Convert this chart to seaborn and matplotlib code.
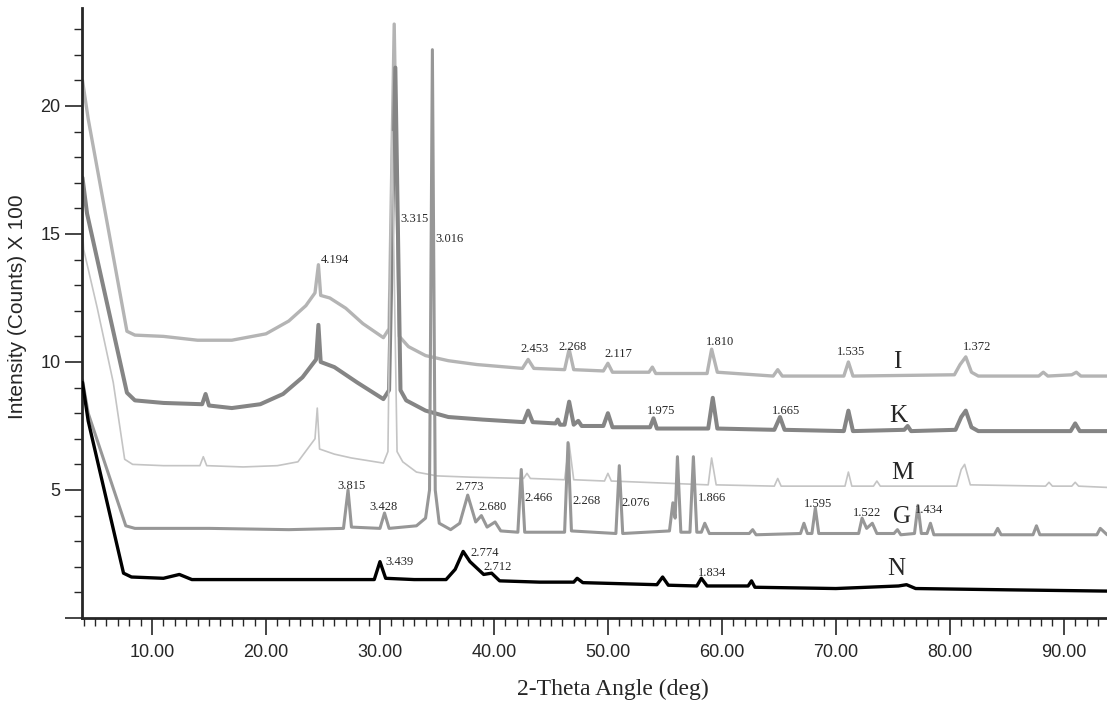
import numpy as np
import pandas as pd
import matplotlib
matplotlib.use("Agg")
import matplotlib.pyplot as plt
import seaborn as sns
from matplotlib.ticker import MultipleLocator, FixedLocator

# ---- data (2-theta deg, counts x 100) ----
I_x = [3.9, 4.4, 7.8, 8.5, 11, 14, 17, 20, 22, 23.5, 24.3, 24.6, 24.8, 25.6, 27, 28.5,
       30.3, 30.8, 31.25, 31.7, 32.5, 34, 36, 38.5, 42.5, 43.0, 43.5, 46.2, 46.6, 47.0,
       49.6, 50.0, 50.4, 53.6, 53.9, 54.2, 58.7, 59.1, 59.6, 64.5, 64.9, 65.3, 70.7,
       71.1, 71.5, 80.4, 80.9, 81.4, 81.9, 82.5, 87.8, 88.2, 88.6, 90.7, 91.1, 91.5, 93.8]
I_y = [21.0, 19.5, 11.2, 11.05, 11.0, 10.85, 10.85, 11.1, 11.6, 12.2, 12.7, 13.8, 12.6,
       12.5, 12.1, 11.5, 10.95, 11.3, 23.2, 11.0, 10.6, 10.25, 10.05, 9.9, 9.75, 10.1,
       9.75, 9.7, 10.5, 9.7, 9.65, 9.95, 9.6, 9.6, 9.8, 9.55, 9.55, 10.5, 9.6, 9.45, 9.7,
       9.45, 9.45, 10.0, 9.45, 9.5, 9.9, 10.2, 9.6, 9.45, 9.45, 9.6, 9.45, 9.5, 9.6,
       9.45, 9.45]

K_x = [3.9, 4.3, 7.8, 8.5, 11, 14.4, 14.7, 15.0, 17, 19.5, 21.5, 23.2, 24.4, 24.6, 24.8,
       26, 28, 30.3, 30.8, 31.35, 31.8, 32.3, 34, 36, 39, 42.6, 43.0, 43.4, 45.4, 45.6,
       45.8, 46.2, 46.6, 47.0, 47.4, 47.7, 49.6, 50.0, 50.4, 53.7, 54.0, 54.3, 58.8,
       59.2, 59.6, 64.6, 65.1, 65.5, 70.7, 71.1, 71.5, 76.0, 76.3, 76.6, 80.5, 81.0,
       81.4, 81.9, 82.5, 90.6, 91.0, 91.4, 93.8]
K_y = [17.2, 15.8, 8.8, 8.5, 8.4, 8.35, 8.75, 8.3, 8.2, 8.35, 8.75, 9.4, 10.1, 11.45,
       10.0, 9.8, 9.2, 8.55, 8.9, 21.5, 8.9, 8.5, 8.1, 7.85, 7.75, 7.65, 8.1, 7.65, 7.6,
       7.75, 7.55, 7.55, 8.45, 7.55, 7.7, 7.5, 7.5, 8.0, 7.45, 7.45, 7.8, 7.4, 7.4, 8.6,
       7.4, 7.35, 7.85, 7.35, 7.3, 8.1, 7.3, 7.35, 7.5, 7.3, 7.35, 7.85, 8.1, 7.45, 7.3,
       7.3, 7.6, 7.3, 7.3]

M_x = [3.9, 4.0, 5.2, 6.6, 7.6, 8.3, 11, 14.2, 14.5, 14.8, 18, 21, 22.8, 23.8, 24.3,
       24.5, 24.7, 26, 27.5, 30.3, 30.7, 31.05, 31.5, 32, 33.2, 35, 38, 42.6, 42.9, 43.2,
       46.2, 46.6, 47.0, 49.7, 50.0, 50.3, 58.8, 59.1, 59.5, 64.6, 64.9, 65.2, 70.8,
       71.1, 71.4, 73.3, 73.6, 73.9, 80.6, 81.0, 81.3, 81.8, 88.4, 88.7, 89.0, 90.7,
       91.0, 91.3, 93.8]
M_y = [15.2, 14.4, 12.1, 9.2, 6.2, 6.0, 5.95, 5.95, 6.3, 5.95, 5.9, 5.95, 6.1, 6.7, 7.0,
       8.2, 6.6, 6.4, 6.25, 6.05, 6.5, 19.0, 6.5, 6.1, 5.7, 5.55, 5.5, 5.45, 5.65, 5.45,
       5.4, 6.8, 5.4, 5.35, 5.65, 5.35, 5.2, 6.25, 5.2, 5.15, 5.45, 5.15, 5.15, 5.7, 5.15,
       5.15, 5.35, 5.15, 5.15, 5.8, 6.0, 5.2, 5.15, 5.3, 5.15, 5.15, 5.3, 5.15, 5.1]

G_x = [3.9, 4.4, 7.7, 8.5, 15, 22, 26.8, 27.2, 27.5, 30.0, 30.4, 30.8, 33.2, 34.0, 34.35,
       34.6, 34.85, 35.2, 36.2, 37.0, 37.7, 38.4, 38.9, 39.4, 40.1, 40.6, 42.1, 42.4,
       42.7, 46.2, 46.5, 46.8, 50.7, 51.0, 51.3, 55.4, 55.7, 55.9, 56.1, 56.4, 57.2,
       57.5, 57.8, 58.2, 58.5, 58.9, 62.4, 62.7, 63.0, 66.9, 67.2, 67.5, 67.9, 68.2,
       68.5, 72.0, 72.3, 72.7, 73.2, 73.6, 75.1, 75.4, 75.7, 76.9, 77.2, 77.5, 78.0,
       78.3, 78.6, 83.9, 84.2, 84.5, 87.3, 87.6, 87.9, 92.9, 93.2, 93.8]
G_y = [9.3, 8.0, 3.6, 3.5, 3.5, 3.45, 3.5, 5.0, 3.55, 3.5, 4.1, 3.5, 3.6, 3.9, 5.0, 22.2,
       5.0, 3.7, 3.45, 3.7, 4.8, 3.75, 4.0, 3.55, 3.75, 3.4, 3.35, 5.8, 3.35, 3.35, 6.85,
       3.4, 3.3, 5.95, 3.3, 3.4, 4.5, 3.9, 6.3, 3.35, 3.35, 6.3, 3.35, 3.35, 3.7, 3.3,
       3.3, 3.45, 3.25, 3.3, 3.7, 3.3, 3.3, 4.3, 3.3, 3.3, 3.9, 3.5, 3.7, 3.3, 3.3, 3.45,
       3.25, 3.3, 4.4, 3.3, 3.3, 3.7, 3.25, 3.25, 3.5, 3.25, 3.25, 3.6, 3.25, 3.25, 3.5,
       3.25]

N_x = [3.9, 4.4, 7.5, 8.2, 11, 12.4, 13.5, 20, 25, 29.5, 30.0, 30.5, 33, 35.8, 36.6, 37.3,
       37.9, 38.5, 39.1, 39.8, 40.5, 44, 47.0, 47.3, 47.8, 54.3, 54.8, 55.3, 57.8, 58.2,
       58.7, 62.3, 62.6, 62.9, 70, 75.5, 76.2, 77, 85, 93.8]
N_y = [9.2, 7.7, 1.75, 1.6, 1.55, 1.7, 1.5, 1.5, 1.5, 1.5, 2.2, 1.55, 1.5, 1.5, 1.9, 2.6,
       2.2, 1.95, 1.7, 1.75, 1.45, 1.4, 1.4, 1.55, 1.38, 1.3, 1.6, 1.28, 1.25, 1.55, 1.25,
       1.25, 1.45, 1.2, 1.15, 1.25, 1.3, 1.15, 1.1, 1.05]

# d-spacing labels: (text, x, y)
peak_labels = [
    ("4.194", 26.05, 14.0), ("3.315", 33.0, 15.6), ("3.016", 36.1, 14.8),
    ("2.453", 43.6, 10.5), ("2.268", 46.9, 10.6), ("2.117", 50.9, 10.3),
    ("1.810", 59.8, 10.8), ("1.535", 71.3, 10.4), ("1.372", 82.4, 10.6),
    ("1.975", 54.7, 8.1), ("1.665", 65.6, 8.1),
    ("3.815", 27.5, 5.15), ("3.428", 30.3, 4.35), ("2.773", 37.9, 5.1),
    ("2.680", 39.9, 4.35), ("2.466", 43.9, 4.7), ("2.268", 48.1, 4.55),
    ("2.076", 52.4, 4.5), ("1.866", 59.1, 4.7), ("1.595", 68.4, 4.45),
    ("1.522", 72.7, 4.1), ("1.434", 78.2, 4.2),
    ("3.439", 31.75, 2.2), ("2.774", 39.2, 2.55), ("2.712", 40.3, 2.0),
    ("1.834", 59.1, 1.75),
]
sample_names = ["I", "K", "M", "G", "N"]
sample_label_x = [75.4, 75.5, 75.8, 75.8, 75.3]
sample_label_y = [10.0, 7.9, 5.65, 3.95, 1.9]

series = {
    "I": (I_x, I_y, "#b4b4b4", 2.4),
    "K": (K_x, K_y, "#858585", 2.9),
    "M": (M_x, M_y, "#c4c4c4", 1.2),
    "G": (G_x, G_y, "#979797", 2.2),
    "N": (N_x, N_y, "#000000", 2.4),
}

sns.set_style("ticks")
plt.rcParams["font.family"] = ["Liberation Sans", "DejaVu Sans"]

fig = plt.figure(figsize=(11.07, 7.04), dpi=100)
ax = fig.add_axes([0.0741, 0.1222, 0.926, 0.8665])

for name, (xs, ys, col, lw) in series.items():
    df = pd.DataFrame({"two_theta": xs, "counts": ys})
    sns.lineplot(data=df, x="two_theta", y="counts", ax=ax, color=col,
                 linewidth=lw, sort=False, estimator=None, zorder=3 if name == "N" else 2)

serif = ["Liberation Serif", "DejaVu Serif"]
for txt, x, y in peak_labels:
    ax.text(x, y, txt, fontsize=9, family=serif, ha="center", va="center", zorder=5)
for name, x, y in zip(sample_names, sample_label_x, sample_label_y):
    ax.text(x, y, name, fontsize=18, family=serif, ha="center", va="center", zorder=5)

ax.set_xlim(3.86, 93.8)
ax.set_ylim(0, 23.83)

ax.xaxis.set_major_locator(FixedLocator(np.arange(10, 91, 10)))
ax.xaxis.set_minor_locator(MultipleLocator(1))
ax.set_xticklabels([f"{v:.2f}" for v in np.arange(10, 91, 10)])
ax.yaxis.set_major_locator(FixedLocator([0, 5, 10, 15, 20]))
ax.yaxis.set_minor_locator(MultipleLocator(1))
ax.set_yticklabels(["", "5", "10", "15", "20"])

ax.tick_params(axis="x", which="major", length=12, width=1.2, pad=7, labelsize=13)
ax.tick_params(axis="x", which="minor", length=6, width=1.0)
ax.tick_params(axis="y", which="major", length=12, width=1.2, pad=3.5, labelsize=13)
ax.tick_params(axis="y", which="minor", length=6, width=1.0)

for side in ("top", "right"):
    ax.spines[side].set_visible(False)
ax.spines["left"].set_linewidth(2)
ax.spines["bottom"].set_linewidth(2)

ax.set_ylabel("Intensity (Counts) X 100", fontsize=15)
ax.yaxis.set_label_coords(-0.054, 0.51)
ax.set_xlabel("2-Theta Angle (deg)", fontsize=17, family=serif)
ax.xaxis.set_label_coords(0.518, -0.10)

fig.savefig("out.png", dpi=100)
